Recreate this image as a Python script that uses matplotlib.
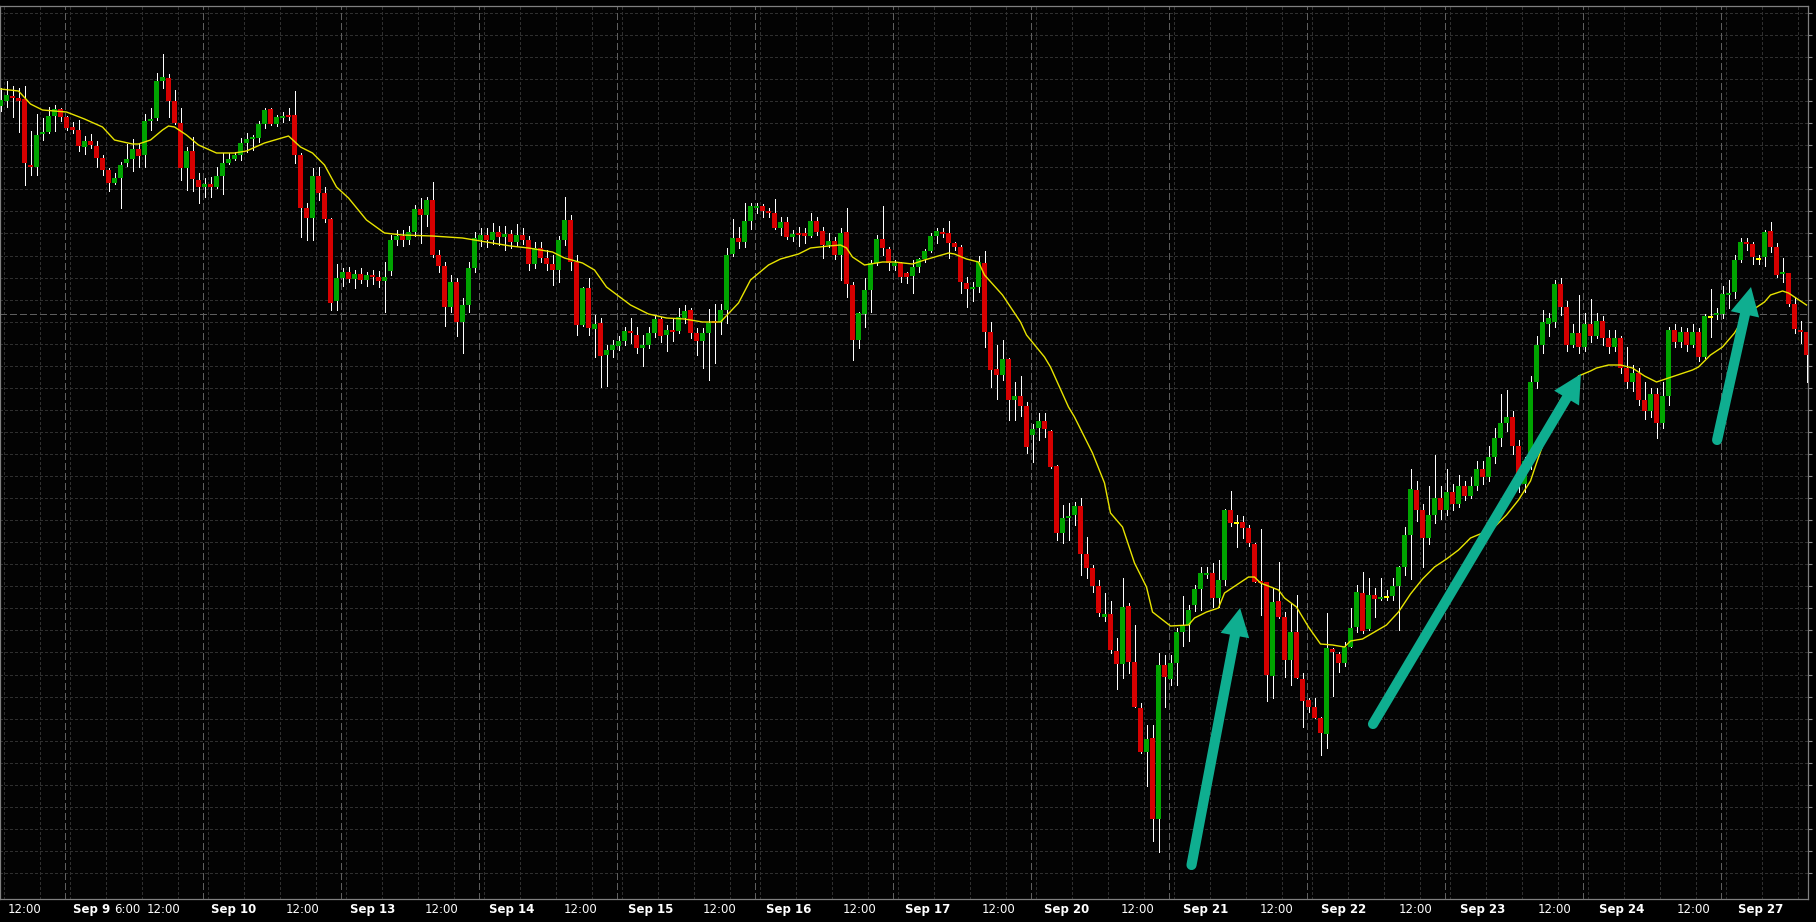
import numpy as np
import matplotlib.pyplot as plt
from matplotlib.patches import Polygon

# hourly candles, price (axis labels are cut off, so arbitrary points)
opens = [
    894, 899, 904, 902, 901, 835, 833, 866, 868, 884,
    891, 883, 873, 870, 853, 859, 854, 842, 830, 817,
    822, 837, 841, 851, 845, 879, 882, 919, 922, 899,
    877, 832, 849, 820, 813, 816, 813, 824, 837, 841,
    845, 857, 861, 862, 876, 891, 876, 882, 885, 885,
    845, 792, 782, 824, 807, 781, 699, 722, 728, 721,
    726, 720, 725, 723, 719, 729, 760, 764, 760, 768,
    791, 785, 800, 745, 734, 693, 718, 678, 695, 732,
    760, 765, 760, 768, 763, 766, 758, 765, 760, 736,
    752, 742, 736, 730, 760, 780, 738, 675, 712, 671,
    677, 645, 650, 654, 659, 669, 665, 652, 655, 667,
    681, 665, 670, 669, 682, 690, 667, 659, 667, 678,
    678, 690, 746, 762, 758, 779, 792, 794, 789, 787,
    772, 778, 763, 767, 767, 764, 779, 769, 755, 759,
    745, 768, 715, 660, 686, 710, 737, 761, 751, 734,
    737, 727, 724, 733, 741, 749, 764, 768, 767, 757,
    753, 717, 711, 713, 737, 668, 631, 625, 641, 600,
    604, 594, 565, 572, 579, 569, 534, 467, 482, 485,
    494, 446, 432, 414, 383, 386, 349, 336, 394, 338,
    292, 248, 262, 181, 335, 321, 337, 368, 375, 395,
    411, 425, 427, 402, 420, 490, 477, 478, 472, 456,
    418, 418, 324, 399, 383, 340, 368, 321, 300, 293,
    282, 266, 351, 346, 337, 353, 373, 407, 371, 405,
    401, 403, 404, 414, 433, 465, 510, 490, 462, 485,
    502, 490, 508, 496, 514, 504, 514, 531, 523, 543,
    562, 577, 583, 554, 516, 539, 618, 655, 676, 678,
    716, 693, 655, 667, 653, 676, 664, 679, 662, 653,
    662, 632, 618, 627, 600, 589, 606, 577, 604, 670,
    658, 668, 655, 668, 643, 683, 685, 686, 705, 708,
    740, 758, 756, 741, 743, 769, 753, 726, 727, 696,
    670, 668,
]
highs = [
    912, 919, 914, 912, 914, 869, 886, 882, 893, 895,
    892, 884, 878, 880, 864, 866, 859, 845, 832, 827,
    838, 856, 861, 857, 886, 892, 927, 946, 926, 910,
    892, 853, 863, 827, 822, 823, 833, 847, 847, 848,
    862, 867, 865, 879, 892, 892, 885, 888, 892, 909,
    847, 797, 832, 833, 813, 782, 736, 732, 733, 730,
    732, 728, 730, 729, 738, 765, 770, 770, 774, 795,
    802, 803, 818, 750, 738, 725, 722, 702, 738, 768,
    772, 772, 777, 774, 774, 770, 776, 772, 764, 758,
    758, 750, 745, 764, 803, 785, 745, 713, 722, 685,
    682, 655, 660, 664, 673, 682, 673, 665, 673, 685,
    683, 675, 682, 692, 695, 692, 672, 672, 691, 696,
    696, 752, 781, 773, 797, 797, 797, 796, 792, 801,
    783, 783, 770, 773, 772, 787, 783, 773, 767, 763,
    772, 792, 718, 688, 722, 740, 765, 794, 753, 740,
    738, 728, 740, 742, 751, 767, 772, 772, 779, 758,
    755, 723, 718, 744, 749, 678, 655, 660, 642, 618,
    624, 598, 576, 587, 587, 570, 535, 495, 497, 498,
    502, 463, 435, 420, 407, 399, 362, 422, 397, 375,
    297, 275, 275, 347, 345, 345, 372, 404, 395, 415,
    433, 433, 437, 440, 491, 509, 485, 484, 475, 457,
    471, 418, 412, 438, 388, 397, 405, 327, 302, 302,
    283, 387, 352, 348, 358, 392, 415, 428, 422, 412,
    422, 410, 422, 434, 473, 531, 519, 496, 514, 545,
    514, 531, 516, 525, 519, 523, 539, 539, 554, 572,
    606, 610, 589, 560, 543, 624, 664, 690, 687, 720,
    722, 699, 676, 705, 687, 701, 687, 684, 670, 670,
    664, 653, 635, 632, 618, 612, 612, 618, 673, 676,
    673, 672, 676, 672, 686, 711, 692, 714, 720, 745,
    762, 762, 758, 745, 770, 778, 757, 742, 727, 703,
    679, 668,
]
lows = [
    889, 893, 883, 868, 815, 825, 825, 860, 867, 869,
    879, 870, 867, 849, 846, 852, 833, 825, 809, 816,
    792, 834, 829, 833, 833, 870, 880, 912, 883, 876,
    820, 810, 809, 797, 803, 803, 812, 806, 836, 840,
    840, 848, 850, 858, 872, 875, 874, 878, 880, 837,
    763, 760, 760, 800, 778, 690, 690, 714, 718, 712,
    717, 714, 716, 713, 688, 725, 755, 754, 756, 764,
    757, 774, 743, 728, 674, 688, 664, 647, 688, 728,
    754, 753, 756, 755, 750, 752, 754, 756, 730, 732,
    738, 730, 715, 718, 755, 730, 665, 674, 665, 643,
    613, 614, 643, 650, 655, 657, 647, 634, 652, 663,
    658, 649, 659, 667, 677, 662, 645, 632, 620, 637,
    666, 677, 744, 752, 753, 771, 787, 783, 783, 771,
    765, 761, 759, 754, 757, 763, 765, 742, 753, 741,
    720, 703, 640, 652, 673, 688, 735, 745, 730, 730,
    718, 717, 707, 728, 738, 748, 757, 763, 742, 750,
    707, 693, 699, 708, 653, 613, 601, 620, 580, 580,
    584, 547, 538, 560, 563, 532, 460, 457, 460, 475,
    425, 422, 408, 384, 379, 347, 311, 322, 327, 293,
    247, 214, 159, 148, 293, 315, 315, 354, 359, 389,
    390, 422, 393, 393, 415, 474, 453, 462, 454, 418,
    385, 299, 302, 382, 323, 315, 322, 273, 288, 282,
    245, 252, 304, 328, 334, 353, 368, 367, 370, 383,
    400, 400, 400, 370, 425, 421, 479, 433, 456, 477,
    481, 485, 490, 493, 500, 502, 510, 516, 519, 537,
    554, 569, 546, 508, 508, 531, 612, 647, 664, 673,
    685, 649, 653, 647, 649, 658, 662, 655, 647, 649,
    627, 612, 609, 595, 581, 583, 562, 572, 595, 653,
    653, 649, 653, 639, 642, 663, 681, 682, 692, 702,
    738, 750, 736, 736, 734, 748, 723, 718, 694, 667,
    657, 618,
]
closes = [
    900, 905, 902, 899, 837, 833, 865, 868, 884, 891,
    883, 872, 870, 854, 859, 855, 842, 830, 817, 822,
    835, 841, 851, 844, 879, 881, 919, 923, 899, 877,
    832, 849, 821, 813, 816, 813, 824, 837, 841, 845,
    857, 861, 862, 876, 890, 876, 883, 884, 883, 845,
    792, 782, 824, 807, 781, 697, 722, 728, 721, 726,
    720, 725, 723, 719, 723, 760, 764, 760, 768, 791,
    785, 800, 745, 734, 693, 718, 678, 695, 732, 762,
    765, 760, 768, 763, 766, 758, 765, 760, 736, 752,
    742, 736, 730, 760, 780, 738, 675, 712, 672, 676,
    644, 650, 655, 659, 669, 667, 652, 655, 667, 681,
    664, 670, 668, 683, 689, 667, 659, 667, 677, 677,
    690, 745, 762, 758, 779, 794, 794, 789, 787, 772,
    778, 763, 766, 765, 764, 779, 768, 755, 759, 745,
    767, 716, 660, 687, 710, 737, 761, 752, 737, 737,
    723, 723, 733, 741, 749, 764, 769, 766, 757, 753,
    718, 711, 713, 738, 668, 630, 625, 641, 600, 604,
    594, 553, 571, 579, 571, 533, 467, 482, 484, 494,
    446, 432, 414, 387, 386, 350, 336, 393, 338, 293,
    248, 261, 181, 335, 323, 337, 368, 374, 390, 411,
    427, 427, 402, 420, 490, 477, 477, 472, 457, 418,
    417, 325, 398, 383, 340, 368, 322, 299, 293, 282,
    267, 352, 348, 337, 353, 372, 408, 369, 405, 401,
    403, 403, 414, 433, 465, 511, 490, 462, 485, 502,
    490, 508, 496, 514, 504, 514, 531, 523, 543, 562,
    577, 583, 554, 516, 539, 618, 655, 678, 682, 716,
    693, 655, 667, 653, 676, 664, 679, 662, 653, 662,
    632, 618, 627, 600, 589, 606, 577, 604, 670, 658,
    668, 655, 668, 643, 684, 683, 686, 706, 707, 740,
    758, 756, 743, 741, 768, 753, 725, 728, 696, 671,
    668, 645,
]

# moving average (yellow), read at these bars
ma_bar = [0, 3, 5, 7, 11, 14, 17, 19, 22, 23, 25, 27, 28, 29, 31, 33, 36, 39, 41, 44,
          48, 50, 52, 54, 56, 58, 61, 64, 67, 72, 77, 82, 85, 88, 92, 94, 97, 99, 101, 105,
          108, 111, 114, 117, 120, 123, 125, 128, 130, 133, 135, 138, 140, 141, 142, 144, 147, 149, 152, 154,
          158, 159, 161, 163, 164, 167, 170, 171, 174, 175, 178, 179, 182, 184, 185, 187, 189, 191, 192, 195,
          198, 199, 201, 203, 204, 207, 208, 209, 210, 213, 214, 216, 218, 220, 222, 224, 225, 227, 229, 231,
          233, 235, 237, 239, 241, 243, 245, 247, 249, 251, 253, 255, 256, 257, 259, 260, 262, 263, 265, 266,
          268, 270, 272, 274, 276, 278, 280, 282, 283, 285, 287, 289, 290, 292, 294, 295, 297, 298, 299, 301]
ma_val = [911, 909, 896, 890, 888, 881, 873, 860, 856, 856, 860, 870, 874, 873, 865, 855, 847, 847, 849, 857,
          864, 853, 847, 835, 813, 802, 780, 767, 765, 764, 762, 757, 754, 752, 748, 742, 737, 730, 713, 695,
          686, 682, 681, 678, 678, 697, 720, 735, 741, 746, 752, 754, 755, 752, 743, 735, 738, 738, 736, 740,
          747, 746, 741, 738, 725, 705, 678, 665, 643, 633, 593, 583, 547, 517, 487, 473, 437, 413, 388, 374,
          375, 382, 388, 392, 407, 419, 423, 423, 417, 410, 402, 393, 373, 356, 355, 353, 359, 361, 368, 375,
          388, 406, 421, 433, 441, 450, 462, 467, 473, 485, 500, 519, 537, 554, 583, 600, 612, 624, 629, 632,
          635, 635, 632, 624, 618, 622, 626, 630, 633, 645, 653, 667, 677, 690, 698, 705, 709, 707, 703, 695]

day_names = ['Sep 9', 'Sep 10', 'Sep 13', 'Sep 14', 'Sep 15', 'Sep 16', 'Sep 17',
             'Sep 20', 'Sep 21', 'Sep 22', 'Sep 23', 'Sep 24', 'Sep 27']
bars_per_day = 23
first_day_bar = 11
bid_price = 686

# (tail, tip) of the three hand drawn arrows, in (bar, price)
arrows = [((198.5, 135), (206.6, 392)),
          ((228.75, 276), (263.4, 626)),
          ((286.1, 560), (291.75, 713))]

o = np.array(opens); h = np.array(highs); l = np.array(lows); c = np.array(closes)
x = np.arange(len(o))

fig = plt.figure(figsize=(18.16, 9.22), dpi=100, facecolor='black')
ax = fig.add_axes([0, 23 / 922, 1808 / 1816, 893 / 922])
ax.set_facecolor('#030303')
ax.set_xlim(-0.5 / 6, 1807.5 / 6)
ax.set_ylim(101, 994)

# grid
grid_col = '#2f2f2f'
grid_y = 987 - 22.05 * np.arange(40)
for gy in grid_y:
    ax.axhline(gy, color=grid_col, lw=0.7, dashes=(2.2, 2.2), zorder=1, antialiased=False)
day_starts = [first_day_bar + bars_per_day * i for i in range(-1, len(day_names))]
for s in day_starts:
    for off in (0, 6, 12, 18):
        xv = s + off + 0.5
        if 0 < xv < 301:
            ax.axvline(xv, color=grid_col, lw=0.7, dashes=(2.2, 2.2), zorder=1, antialiased=False)
for s in day_starts[1:]:
    ax.axvline(s - 0.33, color='#5e5e5e', lw=0.7, dashes=(6.5, 4), zorder=1.5, antialiased=False)
ax.axhline(bid_price, color='#5e5e5e', lw=0.7, dashes=(6.5, 4), zorder=1.5, antialiased=False)

# candles
up = c > o
dn = c < o
dj = c == o
ax.vlines(x, l, h, color='white', lw=0.6, zorder=3, antialiased=False)
bottom = np.minimum(o, c)
height = np.maximum(np.abs(c - o), 1.5)
ax.bar(x[up], height[up], bottom=bottom[up], width=5 / 6, color='#00a400', linewidth=0, zorder=4)
ax.bar(x[dn], height[dn], bottom=bottom[dn], width=5 / 6, color='#d60000', linewidth=0, zorder=4)
ax.bar(x[dj], 1.8, bottom=o[dj] - 0.9, width=5 / 6, color='#ffff00', linewidth=0, zorder=4)

ax.plot(ma_bar, ma_val, color='#e8e400', lw=1.0, zorder=5)

# arrows (geometry in pixels: 6 px per bar, 1 px per price point)
teal = '#0fae90'
for (tb, tp), (hb, hp) in arrows:
    tx, ty, hx, hy = tb * 6, tp, hb * 6, hp
    L = np.hypot(hx - tx, hy - ty)
    ux, uy = (hx - tx) / L, (hy - ty) / L
    px, py = -uy, ux
    bx, by = hx - ux * 28, hy - uy * 28
    ax.plot([tx / 6, (bx + ux * 3) / 6], [ty, by + uy * 3], color=teal, lw=7.3,
            solid_capstyle='round', zorder=8)
    head = [(hx, hy), (bx + px * 14.5, by + py * 14.5), (bx - px * 14.5, by - py * 14.5)]
    ax.add_patch(Polygon([(a / 6, b) for a, b in head], closed=True, color=teal, lw=0, zorder=8))

# frame and ticks
for sp in ax.spines.values():
    sp.set_color('#808080')
    sp.set_linewidth(0.9)
ax.set_xticks([])
ax.yaxis.tick_right()
ax.set_yticks(grid_y)
ax.tick_params(axis='y', length=3, width=0.8, color='#8a8a8a', labelright=False, direction='out')

# time labels
trans = ax.get_xaxis_transform()
ty_lab = -10.5 / 893
for i, name in enumerate(day_names):
    sep_px = 0.5 + 6 * (first_day_bar + bars_per_day * i) - 2
    ax.text((sep_px + 8 + 0.75 * i - 0.5) / 6, ty_lab, name, transform=trans, ha='left', va='center',
            color='white', fontsize=8.5, fontweight='bold', clip_on=False)
for i in range(-1, len(day_names) - 1):
    sep_px = 0.5 + 6 * (first_day_bar + bars_per_day * i) - 2
    ax.text((sep_px + 82 + 1.14 * i - 0.5) / 6, ty_lab, '12:00', transform=trans, ha='left',
            va='center', color='white', fontsize=8.5, clip_on=False)
sep_px = 0.5 + 6 * first_day_bar - 2
ax.text((sep_px + 50 - 0.5) / 6, ty_lab, '6:00', transform=trans, ha='left', va='center',
        color='white', fontsize=8.5, clip_on=False)

fig.savefig('out.png', dpi=100, facecolor='black')
